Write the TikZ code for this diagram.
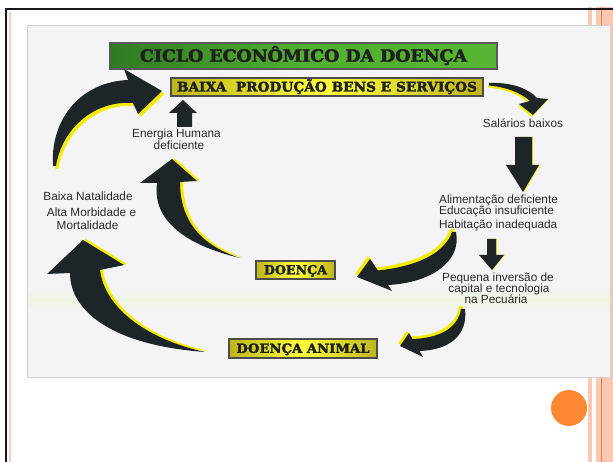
\documentclass[tikz,border=0pt]{standalone}
\usepackage{fontspec}
\setsansfont{Liberation Sans}
\newfontfamily\titlefont{DejaVu Serif}[BoldFeatures={FakeBold=2.5}]
\usepackage{graphicx}
\definecolor{arrowblack}{HTML}{1E2528}
\definecolor{rimyellow}{HTML}{F4EC00}
\definecolor{scanbg}{HTML}{F4F4F6}
\definecolor{txtgray}{HTML}{2A2A2C}
\definecolor{pinkband}{HTML}{FBC6B2}
\definecolor{pinkline}{HTML}{F9CDBE}
\definecolor{orangeline}{HTML}{E9803E}
\definecolor{orangedot}{HTML}{FF8834}
\definecolor{gdark}{HTML}{2F7A22}
\definecolor{glight}{HTML}{56B532}
\definecolor{yedge}{HTML}{BDB51A}
\definecolor{ymid}{HTML}{FFFF3C}
\newcommand\capfit[3]{\resizebox{#1}{#2}{\smash{#3}\vphantom{H}}}
\newcommand\rimshape[2]{\fill[rimyellow,shift={#1}] #2; \fill[arrowblack] #2;}
\begin{document}
\begin{tikzpicture}[x=1pt,y=-1pt,
  lbl/.style={font=\sffamily\fontsize{11.8}{13}\selectfont,text=txtgray,inner sep=0pt},
  greenbar/.style={draw=black!65,line width=1.3pt,inner sep=0pt,left color=gdark,right color=glight,middle color=glight!90!gdark},
  yellowbar/.style={draw=black!70,line width=1.3pt,inner sep=0pt,left color=yedge,right color=yedge,middle color=ymid},
  bartext/.style={text=black!88}
]
\useasboundingbox (0,0) rectangle (613,462);
\fill[white] (0,0) rectangle (613,462);
% slide decorations
\fill[pinkband] (588,7) rectangle (592,462);
\fill[pinkband] (596,7) rectangle (613,462);
\draw[orangeline,line width=1pt] (601,7) -- (601,462);
\draw[pinkline,line width=2.2pt] (10,12) -- (10,462);
\draw[black!90,line width=1.6pt] (6,9) -- (6,462);
\draw[black!90,line width=1.6pt] (5.2,9) -- (613,9);
\fill[orangedot] (569,408) circle (18);
% scanned picture area
\fill[scanbg] (27,25) rectangle (610,377);
\shade[top color=scanbg,bottom color=scanbg,middle color={rgb,255:red,238;green,245;blue,226}] (27,288) rectangle (610,312);
\draw[black!18,line width=0.8pt] (27,25) rectangle (610,377);
% title bars
\node[greenbar,minimum width=387pt,minimum height=26pt] (title) at (303.5,56) {};
\node[bartext] (titletext) at (title.center) {\capfit{327pt}{11.5pt}{\titlefont\bfseries CICLO ECONÔMICO DA DOENÇA}};
\node[yellowbar,minimum width=312pt,minimum height=18pt] (prod) at (327,87) {};
\node[bartext] (prodtext) at (prod.center) {\capfit{300pt}{9pt}{\titlefont\bfseries BAIXA\ \ PRODUÇÃO BENS E SERVIÇOS}};
\node[yellowbar,minimum width=79pt,minimum height=18pt] (doenca) at (295.5,270) {};
\node[bartext] (doencatext) at (doenca.center) {\capfit{63pt}{8.5pt}{\titlefont\bfseries DOENÇA}};
\node[yellowbar,minimum width=148pt,minimum height=19pt] (animal) at (303,348.5) {};
\node[bartext] (animaltext) at (animal.center) {\capfit{133pt}{8.5pt}{\titlefont\bfseries DOENÇA ANIMAL}};
% labels
\node[lbl] (sal) at (523,123) {Salários baixos};
\node[lbl,anchor=west] (ali) at (439,200) {Alimentação deficiente};
\node[lbl,anchor=west] (edu) at (439,211.5) {Educação insuficiente};
\node[lbl,anchor=west] (hab) at (439,225) {Habitação inadequada};
\node[lbl] (peq1) at (498,278) {Pequena inversão de};
\node[lbl] (peq2) at (499,289) {capital e tecnologia};
\node[lbl] (peq3) at (496,299.5) {na Pecuária};
\node[lbl] (ene1) at (176.5,134) {Energia Humana};
\node[lbl] (ene2) at (179,145.5) {deficiente};
\node[lbl] (bai1) at (88,196) {Baixa Natalidade};
\node[lbl] (bai2) at (91.5,212) {Alta Morbidade e};
\node[lbl] (bai3) at (87.5,225.5) {Mortalidade};
% straight arrows
\rimshape{(1.2,0)}{(515,137) -- (532,137) -- (532,165) -- (539,165) -- (523,192) -- (506,165) -- (515,165) -- cycle}
\rimshape{(0.8,0)}{(487,239) -- (496,239) -- (496,255) -- (504,255) -- (492,270) -- (479,255) -- (487,255) -- cycle}
\fill[arrowblack] (177,127) -- (192,127) -- (192,113) -- (197,113) -- (183,100) -- (169,113) -- (177,113) -- cycle;
% curved arrows
\rimshape{(2.5,3)}{(53,166) .. controls (50,120) and (80,82) .. (128,80) -- (124,69) -- (162,91) -- (138,114) -- (133,103) .. controls (95,100) and (62,128) .. (56,166) -- cycle}
\rimshape{(3,-0.5)}{(240,258) .. controls (185,245) and (152,220) .. (157,183) -- (140,183) -- (172,159) -- (197,181) -- (180,182) .. controls (180,220) and (200,245) .. (240,258) -- cycle}
\rimshape{(3,-1)}{(205,352) .. controls (110,345) and (70,310) .. (70,273) -- (47,274) -- (83,240) -- (124,265) -- (100,270) .. controls (105,310) and (150,340) .. (205,352) -- cycle}
\rimshape{(-2,-3)}{(456,232) .. controls (462,262) and (430,283) .. (388,285) -- (392,291) -- (357,277) -- (370,259) -- (378,270.5) .. controls (420,266) and (445,252) .. (452,232) -- cycle}
\rimshape{(-2,-2.5)}{(465,309) .. controls (468,335) and (450,350) .. (419.5,351) -- (423,357) -- (400,346) -- (409,333) -- (412.5,339) .. controls (440,338) and (458,328) .. (461,309) -- cycle}
\rimshape{(-1,2)}{(489,83) .. controls (510,82) and (528,88) .. (537,98) -- (548,99) -- (533,115) -- (519,104) -- (530,101) .. controls (520,92) and (505,87) .. (489,85.5) -- cycle}
\end{tikzpicture}
\end{document}
